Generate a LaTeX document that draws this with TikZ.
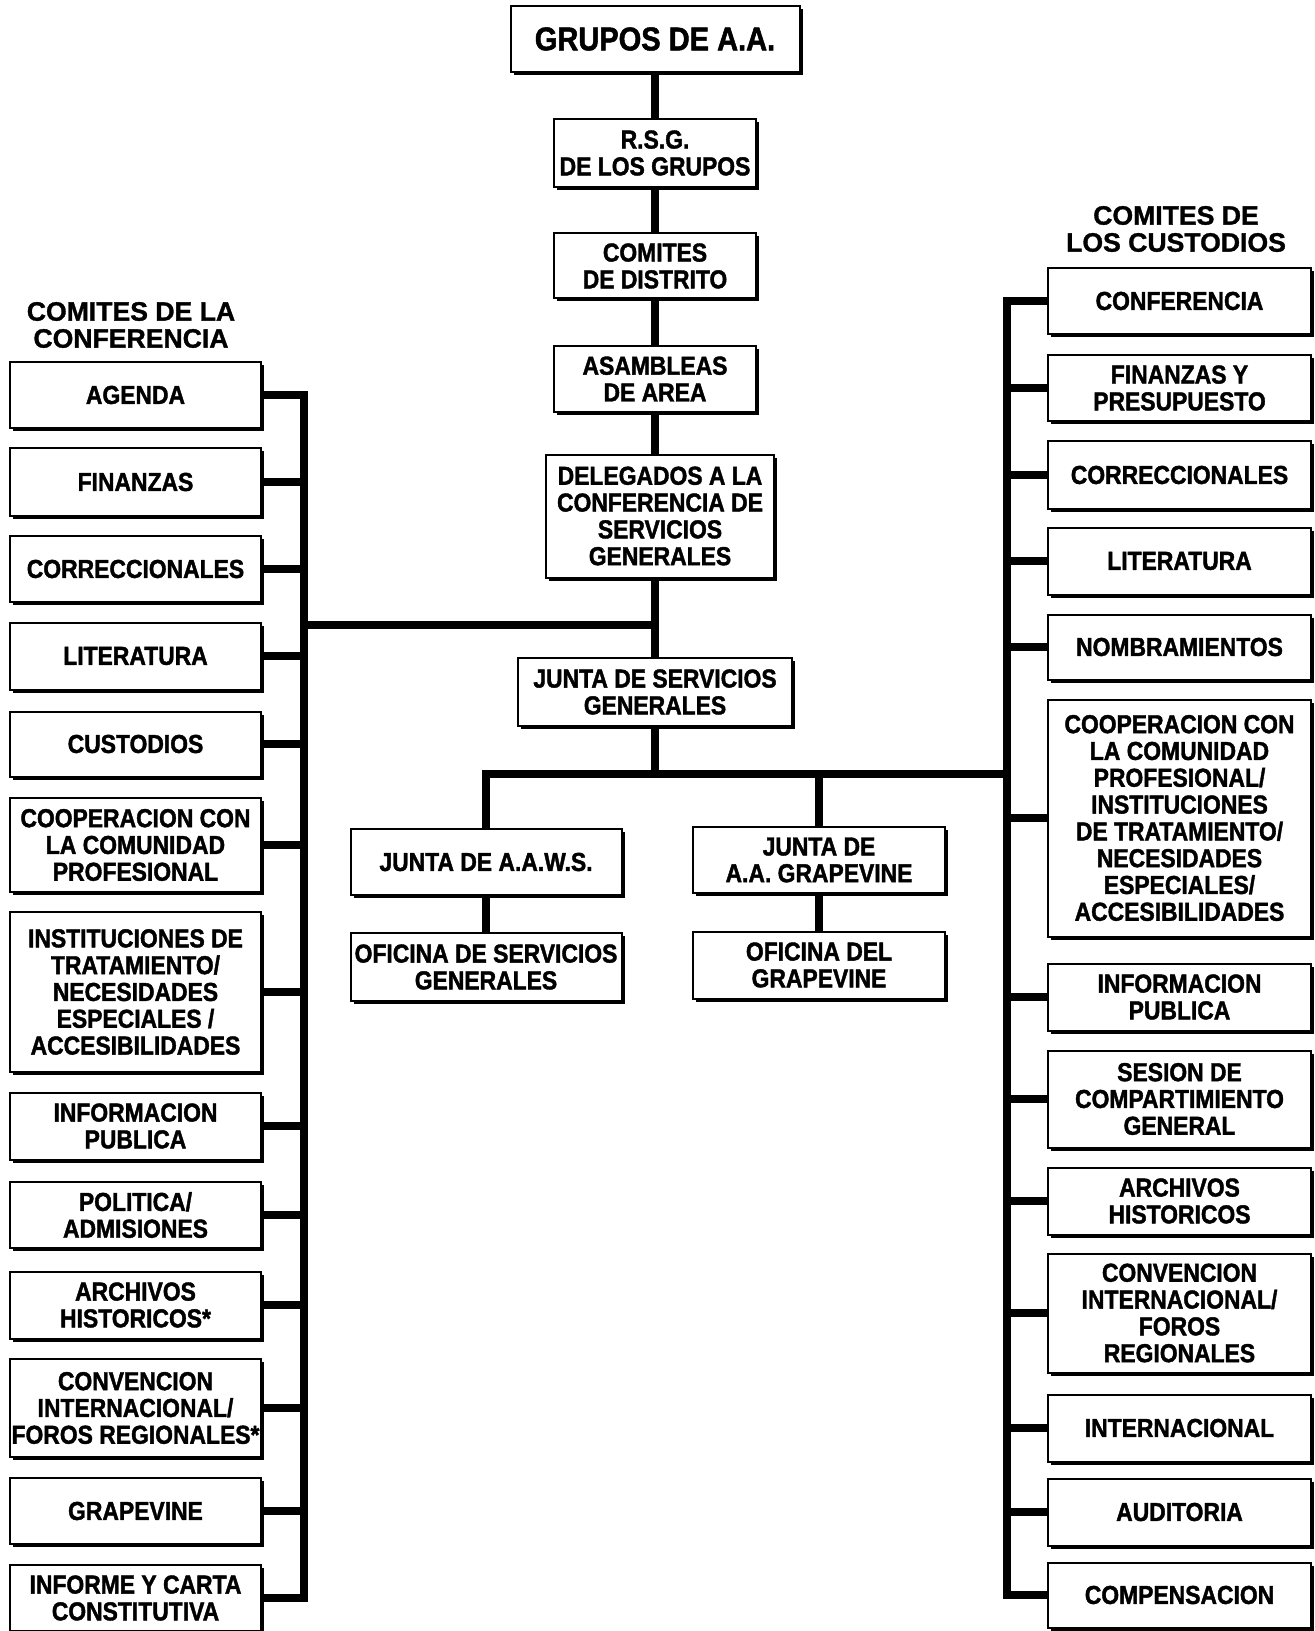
\documentclass[tikz,border=0pt]{standalone}
\usepackage{fontspec}
\setmainfont{Liberation Sans}
\newfontfamily\cajafont{Liberation Sans Bold}[FakeStretch=0.88,FakeBold=1.5]
\newfontfamily\cabezafont{Liberation Sans Bold}[FakeBold=1.2]
\usetikzlibrary{shadows}

\begin{document}
\begin{tikzpicture}[x=0.5pt,y=-0.5pt,
  caja/.style={draw,line width=1pt,fill=white,inner sep=0pt,align=center,
    font=\cajafont\fontsize{13}{13.4}\selectfont,
    drop shadow={shadow xshift=1.5pt,shadow yshift=-1.5pt,opacity=1,fill=black}},
  centro/.style={caja,minimum width=101pt},
  izq/.style={caja,minimum width=125.5pt},
  der/.style={caja,minimum width=131.5pt},
  cabecera/.style={inner sep=0pt,align=center,font=\cabezafont\fontsize{13.3}{13.5}\selectfont},
  linea/.style={line width=3.75pt}]
\useasboundingbox (0,0) rectangle (1315,1631);
\fill[white] (0,0) rectangle (1315,1631);

\node[centro,minimum width=144.5pt,minimum height=33pt,font=\cajafont\fontsize{16.5}{18}\selectfont] (grupos) at (655,39) {GRUPOS DE A.A.};
\node[centro,minimum height=34pt] (rsg) at (655,153) {R.S.G.\\DE LOS GRUPOS};
\node[centro,minimum height=32.5pt] (distrito) at (655,266) {COMITES\\DE DISTRITO};
\node[centro,minimum height=33pt] (asambleas) at (655,379) {ASAMBLEAS\\DE AREA};
\node[centro,minimum width=114pt,minimum height=61.5pt] (delegados) at (660,516) {DELEGADOS A LA\\CONFERENCIA DE\\SERVICIOS\\GENERALES};
\node[centro,minimum width=137pt,minimum height=34pt] (junta) at (655,692) {JUNTA DE SERVICIOS\\GENERALES};
\node[centro,minimum width=135.5pt,minimum height=33pt] (aaws) at (486,862) {JUNTA DE A.A.W.S.};
\node[centro,minimum width=135.5pt,minimum height=34pt] (ofsg) at (486,967) {OFICINA DE SERVICIOS\\GENERALES};
\node[centro,minimum width=126pt,minimum height=33pt] (jgrape) at (819,860) {JUNTA DE\\A.A. GRAPEVINE};
\node[centro,minimum width=126pt,minimum height=33.5pt] (ofgrape) at (819,965) {OFICINA DEL\\GRAPEVINE};

\node[cabecera] (hizq) at (131,325) {COMITES DE LA\\CONFERENCIA};
\node[izq,minimum height=33pt] (agenda) at (135.5,395) {AGENDA};
\node[izq,minimum height=34pt] (finanzas) at (135.5,482) {FINANZAS};
\node[izq,minimum height=33pt] (correc) at (135.5,569) {CORRECCIONALES};
\node[izq,minimum height=33.5pt] (literatura) at (135.5,656) {LITERATURA};
\node[izq,minimum height=32.5pt] (custodios) at (135.5,744) {CUSTODIOS};
\node[izq,minimum height=47pt] (coopera) at (135.5,845) {COOPERACION CON\\LA COMUNIDAD\\PROFESIONAL};
\node[izq,minimum height=80pt] (instituc) at (135.5,992) {INSTITUCIONES DE\\TRATAMIENTO/\\NECESIDADES\\ESPECIALES /\\ACCESIBILIDADES};
\node[izq,minimum height=33.5pt] (informa) at (135.5,1126) {INFORMACION\\PUBLICA};
\node[izq,minimum height=33pt] (politica) at (135.5,1215) {POLITICA/\\ADMISIONES};
\node[izq,minimum height=33.5pt] (archivos) at (135.5,1305) {ARCHIVOS\\HISTORICOS*};
\node[izq,minimum height=49pt] (convenc) at (135.5,1408) {CONVENCION\\INTERNACIONAL/\\FOROS REGIONALES*};
\node[izq,minimum height=33pt] (grapevine) at (135.5,1511) {GRAPEVINE};
\node[izq,minimum height=33pt] (informe) at (135.5,1598) {INFORME Y CARTA\\CONSTITUTIVA};

\node[cabecera] (hder) at (1176,229) {COMITES DE\\LOS CUSTODIOS};
\node[der,minimum height=33pt] (rconf) at (1179.5,301) {CONFERENCIA};
\node[der,minimum height=33pt] (rfinanzas) at (1179.5,388) {FINANZAS Y\\PRESUPUESTO};
\node[der,minimum height=34pt] (rcorrec) at (1179.5,475) {CORRECCIONALES};
\node[der,minimum height=33.5pt] (rlitera) at (1179.5,561) {LITERATURA};
\node[der,minimum height=32.5pt] (rnombra) at (1179.5,647) {NOMBRAMIENTOS};
\node[der,minimum height=118.5pt] (rcoopera) at (1179.5,818) {COOPERACION CON\\LA COMUNIDAD\\PROFESIONAL/\\INSTITUCIONES\\DE TRATAMIENTO/\\NECESIDADES\\ESPECIALES/\\ACCESIBILIDADES};
\node[der,minimum height=33.5pt] (rinforma) at (1179.5,997) {INFORMACION\\PUBLICA};
\node[der,minimum height=48.5pt] (rsesion) at (1179.5,1099) {SESION DE\\COMPARTIMIENTO\\GENERAL};
\node[der,minimum height=33.5pt] (rarchivos) at (1179.5,1201) {ARCHIVOS\\HISTORICOS};
\node[der,minimum height=59.5pt] (rconvenc) at (1179.5,1313) {CONVENCION\\INTERNACIONAL/\\FOROS\\REGIONALES};
\node[der,minimum height=33.5pt] (rinternac) at (1179.5,1428) {INTERNACIONAL};
\node[der,minimum height=33.5pt] (rauditoria) at (1179.5,1512) {AUDITORIA};
\node[der,minimum height=32.5pt] (rcompens) at (1179.5,1595) {COMPENSACION};

\coordinate (ltrunk) at (304,0);
\coordinate (rtrunk) at (1007,0);
\coordinate (cruce) at (655,625);
\coordinate (bus) at (655,774);

\draw[linea] (grupos) -- (rsg);
\draw[linea] (rsg) -- (distrito);
\draw[linea] (distrito) -- (asambleas);
\draw[linea] (asambleas.south) -- (asambleas.south |- delegados.north);
\draw[linea] (delegados.south -| junta) -- (junta.north);
\draw[linea] (cruce -| ltrunk) -- (cruce);
\draw[linea] (junta.south) -- (bus);
\draw[linea] (aaws.north) |- (bus -| rtrunk);
\draw[linea] (jgrape.north) -- (jgrape.north |- bus);
\draw[linea] (aaws) -- (ofsg);
\draw[linea] (jgrape) -- (ofgrape);

\draw[linea] (agenda.east) -| (informe.east -| ltrunk) -- (informe.east);
\foreach \n in {finanzas,correc,literatura,custodios,coopera,instituc,informa,politica,archivos,convenc,grapevine}
  \draw[linea] (\n.east) -- (\n.east -| ltrunk);

\draw[linea] (rconf.west) -| (rcompens.west -| rtrunk) -- (rcompens.west);
\foreach \n in {rfinanzas,rcorrec,rlitera,rnombra,rcoopera,rinforma,rsesion,rarchivos,rconvenc,rinternac,rauditoria}
  \draw[linea] (\n.west) -- (\n.west -| rtrunk);
\end{tikzpicture}
\end{document}
